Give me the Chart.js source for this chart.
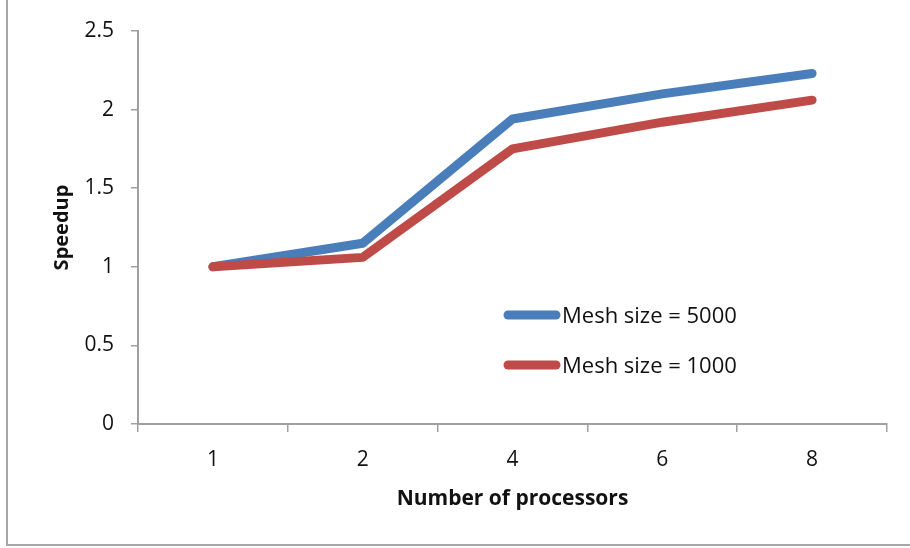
<!DOCTYPE html>
<html>
<head>
<meta charset="utf-8">
<title>Speedup</title>
<script src="https://cdn.jsdelivr.net/npm/chart.js@4/dist/chart.umd.min.js"></script>
<style>
  html, body { margin: 0; padding: 0; background: #fff; }
  canvas { display: block; }
</style>
</head>
<body>
<canvas id="grafico" width="910" height="548"></canvas>
<script>
// Speedup vs. number of processors for two mesh sizes
const procesadores = ['1', '2', '4', '6', '8'];
const malla5000 = [1, 1.15, 1.94, 2.10, 2.23];
const malla1000 = [1, 1.06, 1.75, 1.92, 2.06];
const ticksY = [0, 0.5, 1, 1.5, 2, 2.5];

const AZUL = '#4a7ebb';
const ROJO = '#be4b48';
const GRIS = '#a0a0a0';
const FUENTE = "'Open Sans', sans-serif";

// marco exterior (solo borde izquierdo e inferior quedan visibles)
const marco = {
  id: 'marco',
  beforeDraw(chart) {
    const ctx = chart.ctx;
    ctx.save();
    ctx.strokeStyle = '#a6a6a6';
    ctx.lineWidth = 2;
    ctx.beginPath();
    ctx.moveTo(7, 0);
    ctx.lineTo(7, 545);
    ctx.lineTo(chart.width, 545);
    ctx.stroke();
    ctx.restore();
  }
};

// leyenda dentro del área de trazado, estilo Excel
const leyenda = {
  id: 'leyenda',
  afterDatasetsDraw(chart) {
    const ctx = chart.ctx;
    const area = chart.chartArea;
    const x0 = area.left + 370;
    const y0 = area.top + 284;
    ctx.save();
    ctx.font = '22px ' + FUENTE;
    ctx.textBaseline = 'middle';
    ctx.textAlign = 'left';
    chart.data.datasets.forEach((ds, i) => {
      const y = y0 + i * 50;
      ctx.strokeStyle = ds.borderColor;
      ctx.lineWidth = 9;
      ctx.lineCap = 'round';
      ctx.beginPath();
      ctx.moveTo(x0, y);
      ctx.lineTo(x0 + 48, y);
      ctx.stroke();
      ctx.fillStyle = '#111';
      ctx.fillText(ds.label, x0 + 54, y + 2);
    });
    ctx.restore();
  }
};

new Chart(document.getElementById('grafico'), {
  type: 'line',
  data: {
    labels: procesadores,
    datasets: [
      {
        label: 'Mesh size = 5000',
        data: malla5000,
        borderColor: AZUL,
        backgroundColor: AZUL,
        order: 1
      },
      {
        label: 'Mesh size = 1000',
        data: malla1000,
        borderColor: ROJO,
        backgroundColor: ROJO,
        order: 0
      }
    ]
  },
  options: {
    responsive: false,
    animation: false,
    devicePixelRatio: 1,
    layout: { padding: { left: 0, top: 31, right: 23, bottom: 0 } },
    elements: {
      line: { borderWidth: 9, borderCapStyle: 'round', borderJoinStyle: 'round', tension: 0 },
      point: { radius: 0, hoverRadius: 0 }
    },
    plugins: {
      legend: { display: false },
      tooltip: { enabled: false }
    },
    scales: {
      x: {
        offset: true,
        grid: { display: true, offset: true, drawOnChartArea: false, tickLength: 8, color: GRIS, lineWidth: 1.5 },
        border: { color: GRIS, width: 2 },
        ticks: { color: '#111', font: { family: FUENTE, size: 21 }, padding: 15 },
        title: {
          display: true,
          text: 'Number of processors',
          color: '#111',
          font: { family: FUENTE, size: 21, weight: 'bold' },
          padding: { top: 0, bottom: 36 }
        },
        afterFit(scale) { scale.height = 124; }
      },
      y: {
        min: 0,
        max: 2.5,
        afterBuildTicks(scale) { scale.ticks = ticksY.map(v => ({ value: v })); },
        grid: { display: true, drawOnChartArea: false, tickLength: 7, color: GRIS, lineWidth: 1.5 },
        border: { color: GRIS, width: 2 },
        ticks: {
          color: '#111',
          font: { family: FUENTE, size: 21 },
          padding: 17,
          callback: (v) => String(v)
        },
        title: {
          display: true,
          text: 'Speedup',
          color: '#111',
          font: { family: FUENTE, size: 20, weight: 'bold' },
          padding: { top: 50, bottom: 0 }
        },
        afterFit(scale) { scale.width = 138; }
      }
    }
  },
  plugins: [marco, leyenda]
});
</script>
</body>
</html>
